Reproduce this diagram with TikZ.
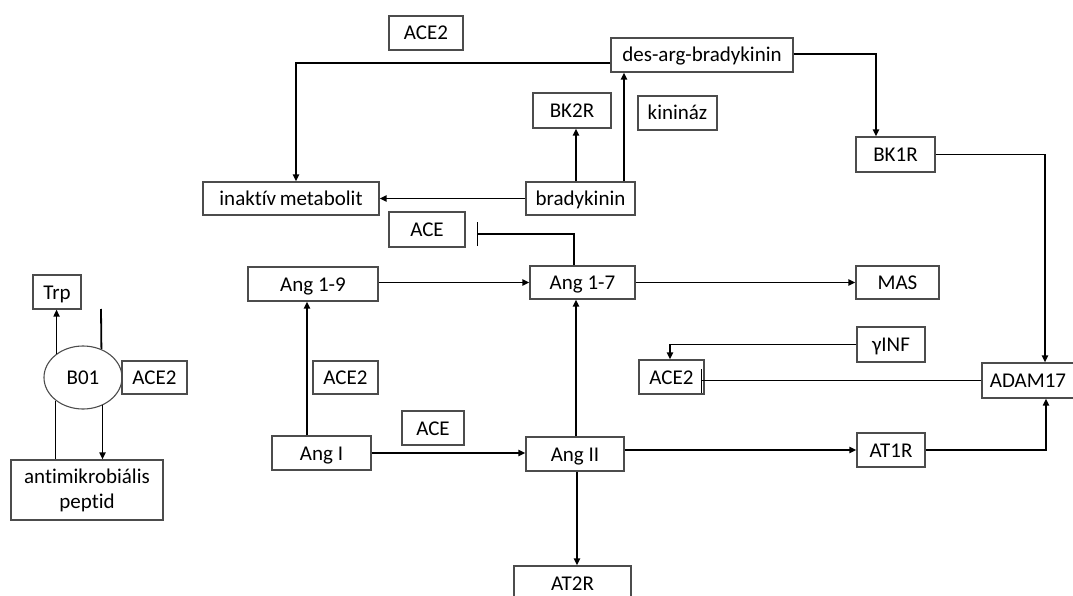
\documentclass[tikz,border=0pt]{standalone}
\usepackage{fontspec}
\setmainfont{Carlito}[Ligatures=NoCommon]
\usetikzlibrary{arrows.meta,shapes.geometric}
\begin{document}
\begin{tikzpicture}[x=1pt,y=-1pt,
  boxbase/.style={draw=black!70,line width=1.1pt,inner sep=0pt,font=\fontsize{21}{25}\selectfont,align=center},
  box/.style={boxbase,text height=14pt,text depth=0pt},
  arr/.style={line width=1.8pt,-{Triangle[length=7pt,width=6pt]}},
  ln/.style={line width=1.8pt},
  inh/.style={line width=1.8pt,-{Bar[width=24pt,line width=1.8pt]}}]
\useasboundingbox (0,0) rectangle (1073,596);
\clip (0,0) rectangle (1073,596);
\fill[white] (0,0) rectangle (1073,596);
% nodes
\node[box,minimum width=74pt,minimum height=34pt] (ace2top) at (426,33) {ACE2};
\node[box,minimum width=182pt,minimum height=34pt] (desarg) at (702,55) {des-arg-bradykinin};
\node[box,minimum width=78pt,minimum height=35pt] (bk2r) at (572,110.5) {BK2R};
\node[box,minimum width=79pt,minimum height=34pt] (kininaz) at (677.5,113) {kinináz};
\node[box,minimum width=176pt,minimum height=33pt] (inaktiv) at (291,198.5) {inaktív\hspace{-1pt} metabolit};
\node[box,minimum width=109pt,minimum height=33pt] (brady) at (580.5,198.5) {bradykinin};
\node[box,minimum width=79pt,minimum height=35pt] (bk1r) at (895.5,154.5) {BK1R};
\node[box,minimum width=76pt,minimum height=35pt] (acetop) at (427,229.5) {ACE};
\node[box,minimum width=130pt,minimum height=34pt] (ang19) at (313,284) {Ang 1-9};
\node[box,minimum width=105pt,minimum height=33pt] (ang17) at (582.5,282.5) {Ang 1-7};
\node[box,minimum width=83pt,minimum height=33pt] (mas) at (897.5,282.5) {MAS};
\node[box,minimum width=68pt,minimum height=35pt] (ginf) at (891,344.5) {γINF};
\node[box,minimum width=65pt,minimum height=34pt] (ace2m) at (671.5,377) {ACE2};
\node[box,minimum width=92pt,minimum height=35pt] (adam) at (1028,380.5) {ADAM17};
\node[box,minimum width=65pt,minimum height=33pt] (ace2l) at (345.5,377.5) {ACE2};
\node[box,minimum width=99pt,minimum height=34pt] (angI) at (321.5,453) {Ang I};
\node[box,minimum width=62pt,minimum height=34pt] (acebot) at (433,428) {ACE};
\node[box,minimum width=98pt,minimum height=34pt] (angII) at (575,454) {Ang II};
\node[box,minimum width=68pt,minimum height=34pt] (at1r) at (891,450) {AT1R};
\node[box,minimum width=117pt,minimum height=34pt] (at2r) at (572.5,583) {AT2R};
\node[box,minimum width=48pt,minimum height=34pt] (trp) at (57,292) {Trp};
\node[box,ellipse,minimum width=78pt,minimum height=63pt] (b01) at (83,377.5) {B01};
\node[box,minimum width=65pt,minimum height=33pt] (ace2left) at (154.5,377.5) {ACE2};
\node[boxbase,minimum width=152pt,minimum height=60pt] (amp) at (87,490) {antimikrobiális\\peptid};
\coordinate (topend) at (101,309);
% connectors top
\draw[arr] ([yshift=-8pt]desarg.west) -| ([xshift=5pt]inaktiv.north);
\draw[arr] ([xshift=-4.5pt]brady.north) -- ([xshift=-4.5pt]brady.north |- bk2r.south);
\draw[arr] ([xshift=43.5pt]brady.north) -- ([xshift=43.5pt]brady.north |- desarg.south);
\draw[arr] (brady.west) -- (brady.west -| inaktiv.east);
\draw[arr] ([yshift=1pt]desarg.east) -| ([xshift=-19.5pt]bk1r.north);
\draw[arr] (bk1r.east) -| ([xshift=17pt]adam.north);
\draw[arr] (at1r.east) -| ([xshift=18pt]adam.south);
\draw[arr] (ang17.east) -- (ang17.east -| mas.west);
\draw[arr] (ginf.west) -| ([xshift=-1.5pt]ace2m.north);
\draw[inh,shorten >=-4pt] (adam.west) -- (adam.west -| ace2m.east);
\draw[inh] ([xshift=-8.5pt]ang17.north) |- ([yshift=-4.5pt,xshift=11pt]acetop.east);
\draw[arr] (ang17.west -| ang19.east) -- (ang17.west);
\draw[arr] ([xshift=-14.5pt]angI.north) -- ([xshift=-14.5pt]angI.north |- ang19.south);
\draw[arr] (angI.east) -- (angI.east -| angII.west);
\draw[arr] ([xshift=1pt]angII.north) -- ([xshift=1pt]angII.north |- ang17.south);
\draw[arr] ([xshift=2pt]angII.south) -- ([xshift=2pt]angII.south |- at2r.north);
\draw[arr] (at1r.west -| angII.east) -- (at1r.west);
% left part
\draw[arr] (b01.138) -- (b01.138 |- trp.south);
\draw[ln] (b01.57) -- (topend);
\draw[ln] (b01.220) -- (b01.220 |- amp.north);
\draw[arr] (b01.305) -- (b01.305 |- amp.north);
\end{tikzpicture}
\end{document}
